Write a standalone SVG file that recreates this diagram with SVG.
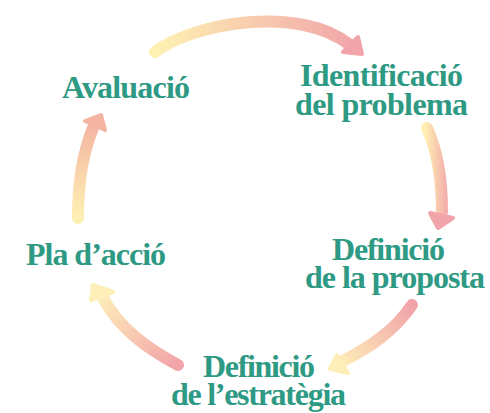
<svg xmlns="http://www.w3.org/2000/svg" width="490" height="413" viewBox="0 0 490 413">
<style>
.lbl{font-family:"Liberation Serif","Times New Roman",serif;font-weight:bold;font-size:32px;fill:#2e9a84;text-anchor:middle}
.arr{fill:none;stroke-width:12;stroke-linecap:round}
.head{stroke-width:4;stroke-linejoin:round}
</style>
<defs>
<linearGradient id="g1" gradientUnits="userSpaceOnUse" x1="155" y1="52" x2="360" y2="45"><stop offset="0" stop-color="#fef2b3"/><stop offset="1" stop-color="#f1a3a9"/></linearGradient>
<linearGradient id="g2" gradientUnits="userSpaceOnUse" x1="425" y1="0" x2="450" y2="0"><stop offset="0" stop-color="#fef0b2"/><stop offset="1" stop-color="#f1a3a9"/></linearGradient>
<linearGradient id="g3" gradientUnits="userSpaceOnUse" x1="412" y1="305" x2="338" y2="362"><stop offset="0" stop-color="#f1a3a9"/><stop offset="1" stop-color="#feeeb8"/></linearGradient>
<linearGradient id="g4" gradientUnits="userSpaceOnUse" x1="178" y1="365" x2="100" y2="295"><stop offset="0" stop-color="#f1a3a9"/><stop offset="1" stop-color="#feeeb8"/></linearGradient>
<linearGradient id="g5" gradientUnits="userSpaceOnUse" x1="78" y1="218" x2="95" y2="125"><stop offset="0" stop-color="#fef0b2"/><stop offset="1" stop-color="#f4b4a2"/></linearGradient>
</defs>
<g id="connectors">
<g id="arrow1">
<path class="arr" stroke="url(#g1)" d="M155,52 C195,22 300,5 350,45"/>
<polygon class="head" fill="#f1a4a9" stroke="#f1a4a9" points="343,52 358,37 362,54"/>
</g>
<g id="arrow2">
<path class="arr" stroke="url(#g2)" d="M427,128 C437,150 442,180 442,212"/>
<polygon class="head" fill="#f1a4a9" stroke="#f1a4a9" points="430,213 453,218 438,228"/>
</g>
<g id="arrow3">
<path class="arr" stroke="url(#g3)" d="M412,305 C395,330 372,346 343,361"/>
<polygon class="head" fill="#feeeb8" stroke="#feeeb8" points="337,355 330,369 348,373"/>
</g>
<g id="arrow4">
<path class="arr" stroke="url(#g4)" d="M178,365 C150,350 120,330 103,298"/>
<polygon class="head" fill="#feeeb8" stroke="#feeeb8" points="93,285 113,292 91,300"/>
</g>
<g id="arrow5">
<path class="arr" stroke="url(#g5)" d="M78,218 C78,180 83,152 93,128"/>
<polygon class="head" fill="#f4b4a2" stroke="#f4b4a2" points="85,121 101,115 105,130"/>
</g>
</g>
<g id="node-identificacio">
<text class="lbl" x="381.5" y="86" textLength="163">Identificació</text>
<text class="lbl" x="381.5" y="115" textLength="173">del problema</text>
</g>
<g id="node-proposta">
<text class="lbl" x="388.5" y="260" textLength="113">Definició</text>
<text class="lbl" x="395" y="288" textLength="180">de la proposta</text>
</g>
<g id="node-estrategia">
<text class="lbl" x="259" y="377" textLength="112">Definició</text>
<text class="lbl" x="258.5" y="405" textLength="175">de l’estratègia</text>
</g>
<g id="node-pla">
<text class="lbl" x="96" y="265" textLength="140">Pla d’acció</text>
</g>
<g id="node-avaluacio">
<text class="lbl" x="126" y="98" textLength="128">Avaluació</text>
</g>
</svg>
